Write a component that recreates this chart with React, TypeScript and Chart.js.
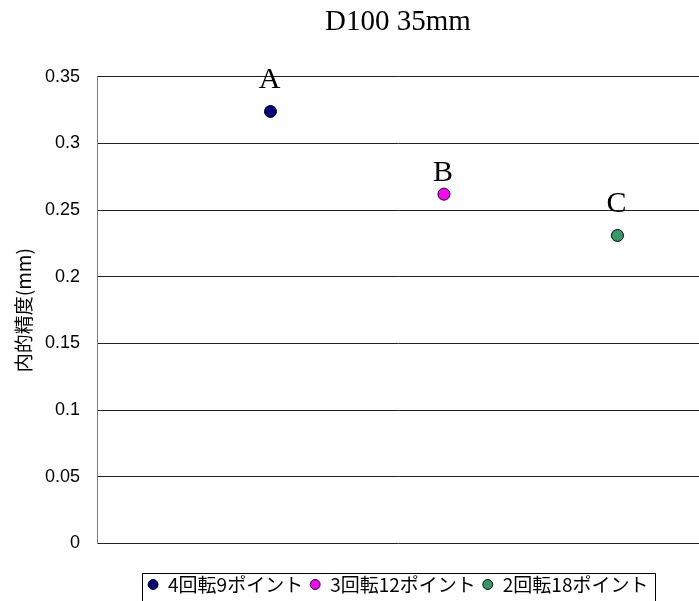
import React, { useEffect, useRef } from 'react';
import { Chart, registerables } from 'chart.js';

Chart.register(...registerables);

const chartTitle = 'D100 35mm';
const yAxisTitle = '内的精度(mm)';
const seriesNames = ['4回転9ポイント', '3回転12ポイント', '2回転18ポイント'];
const pointTags = ['A', 'B', 'C'];
const xPositions = [1, 2, 3];
const yValues = [0.324, 0.262, 0.231];
const yTicks = [0, 0.05, 0.1, 0.15, 0.2, 0.25, 0.3, 0.35];
const seriesColors = ['#000080', '#FF00FF', '#339966'];

const SERIF = '"Liberation Serif", "Times New Roman", serif';
const SANS = '"Liberation Sans", Arial, sans-serif';
const CJK = '"Noto Sans CJK JP", sans-serif';

// distance from each marker's centre up to the baseline of its tag letter
const tagLift = [23.5, 13.5, 23.5];

const tagPlugin = {
  id: 'pointTags',
  afterDatasetsDraw(chart: any) {
    const ctx = chart.ctx;
    ctx.save();
    ctx.font = `30px ${SERIF}`;
    ctx.fillStyle = '#000';
    ctx.textAlign = 'center';
    ctx.textBaseline = 'alphabetic';
    chart.data.datasets.forEach((_ds: any, i: number) => {
      const el = chart.getDatasetMeta(i).data[0];
      if (el) ctx.fillText(pointTags[i], el.x - 1, el.y - tagLift[i]);
    });
    ctx.restore();
  },
};

// frame around the legend row
const legendFramePlugin = {
  id: 'legendFrame',
  afterDraw(chart: any) {
    const boxes = chart.legend && chart.legend.legendHitBoxes;
    if (!boxes || !boxes.length) return;
    const first = boxes[0];
    const last = boxes[boxes.length - 1];
    const left = Math.round(first.left - 5.5) + 0.5;
    const right = Math.round(last.left + last.width + 7) + 0.5;
    const top = Math.round(first.top - 2) + 0.5;
    const bottom = Math.round(first.top + first.height + 10) + 0.5;
    const ctx = chart.ctx;
    ctx.save();
    ctx.strokeStyle = '#000';
    ctx.lineWidth = 1;
    ctx.strokeRect(left, top, right - left, bottom - top);
    ctx.restore();
  },
};

export default function App() {
  const canvasRef = useRef<HTMLCanvasElement | null>(null);

  useEffect(() => {
    const canvas = canvasRef.current;
    if (!canvas) return;

    const datasets = seriesNames.map((name, i) => ({
      label: name,
      data: [{ x: xPositions[i], y: yValues[i] }],
      backgroundColor: seriesColors[i],
      borderColor: '#000',
      borderWidth: 1,
      pointRadius: 6,
      pointBorderWidth: 1,
      pointBackgroundColor: seriesColors[i],
      pointBorderColor: '#000',
      showLine: false,
    }));

    const chart = new Chart(canvas, {
      type: 'scatter',
      data: { datasets },
      plugins: [tagPlugin, legendFramePlugin],
      options: {
        animation: false,
        responsive: false,
        devicePixelRatio: 1,
        layout: { autoPadding: false, padding: { left: 8, right: 0, top: 0, bottom: 0 } },
        plugins: {
          title: {
            display: true,
            text: chartTitle,
            fullSize: false,
            color: '#000',
            font: { family: SERIF, size: 29, weight: 'normal' },
            padding: { top: 5, bottom: 37 },
          },
          legend: {
            display: true,
            position: 'bottom',
            fullSize: false,
            labels: {
              usePointStyle: true,
              pointStyle: 'circle',
              boxWidth: 11,
              boxHeight: 7,
              padding: 6.5,
              color: '#000',
              font: { family: CJK, size: 19 },
            },
          },
          tooltip: { enabled: false },
        },
        scales: {
          x: {
            type: 'linear',
            min: 0,
            max: 3.47,
            display: true,
            ticks: { display: false },
            grid: { display: false },
            border: { display: false },
            afterFit: (scale: any) => {
              scale.height = 25;
            },
          },
          y: {
            type: 'linear',
            min: 0,
            max: 0.35,
            afterBuildTicks: (scale: any) => {
              scale.ticks = yTicks.map((v) => ({ value: v }));
            },
            afterFit: (scale: any) => {
              scale.width = 89;
            },
            ticks: {
              color: '#000',
              padding: 17,
              font: { family: SANS, size: 18 },
              callback: (v: any) => String(Number(Number(v).toFixed(2))),
            },
            grid: { color: '#222', lineWidth: 1, drawTicks: false },
            border: { display: true, color: '#808080', width: 1 },
            title: {
              display: true,
              text: yAxisTitle,
              color: '#000',
              font: { family: CJK, size: 19 },
              padding: { top: 4, bottom: 0 },
            },
          },
        },
      },
    });

    return () => chart.destroy();
  }, []);

  return (
    <div style={{ position: 'fixed', left: 0, top: 0, width: 699, height: 604, background: '#fff' }}>
      <canvas ref={canvasRef} width={699} height={604} style={{ display: 'block', width: 699, height: 604 }} />
    </div>
  );
}
